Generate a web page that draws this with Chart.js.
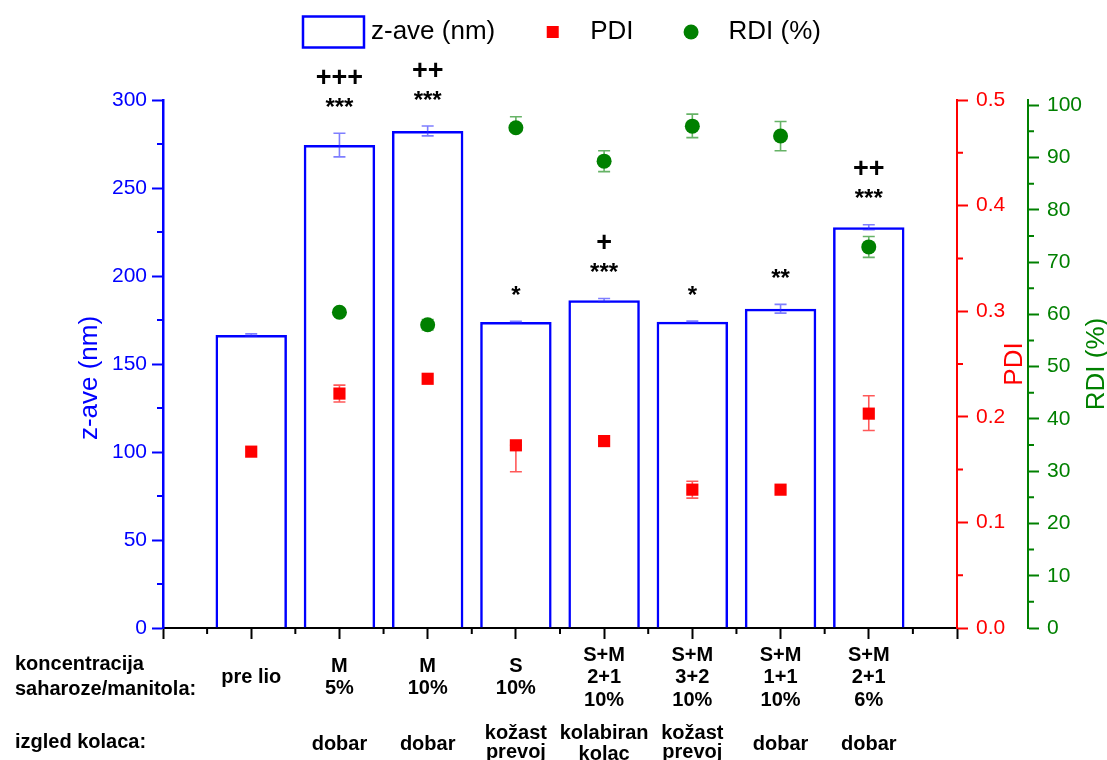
<!DOCTYPE html>
<html>
<head>
<meta charset="utf-8">
<script src="https://cdn.jsdelivr.net/npm/chart.js@4.4.1/dist/chart.umd.min.js"></script>
<style>
html,body{margin:0;padding:0;background:#ffffff;}
#wrap{width:1107px;height:760px;position:relative;}
</style>
</head>
<body>
<div id="wrap"><canvas id="c" width="1107" height="760"></canvas></div>
<script>
// ---------- DATA ----------
const categories = [['pre lio'], ['M','5%'], ['M','10%'], ['S','10%'], ['S+M','2+1','10%'], ['S+M','3+2','10%'], ['S+M','1+1','10%'], ['S+M','2+1','6%']];
const cakeLook = [[], ['dobar'], ['dobar'], ['kožast','prevoj'], ['kolabiran','kolac'], ['kožast','prevoj'], ['dobar'], ['dobar']];
const rowHeaders = [['koncentracija','saharoze/manitola:'], ['izgled kolaca:']];

const zAve        = [166.5, 274.4, 282.4, 173.9, 186.2, 174.0, 181.4, 227.7];
const zAveErr     = [0.6, 6.7, 2.8, 0.4, 1.0, 0.4, 2.5, 1.4];

const pdi         = [0.167, 0.222, 0.236, 0.173, 0.177, 0.131, 0.131, 0.203];
const pdiErrPlus  = [0, 0.008, 0, 0, 0, 0.008, 0, 0.017];
const pdiErrMinus = [0, 0.008, 0, 0.025, 0, 0.008, 0, 0.016];

const rdi         = [null, 60.4, 58.0, 95.7, 89.3, 96.0, 94.1, 72.9];
const rdiErrPlus  = [0, 0.6, 1.0, 2.1, 2.0, 2.3, 2.8, 2.0];
const rdiErrMinus = [0, 0.6, 1.0, 0.4, 2.0, 2.2, 2.8, 2.0];

const sigStars = ['', '***', '***', '*', '***', '*', '**', '***'];
const sigPlus  = ['', '+++', '++', '', '+', '', '', '++'];

const seriesLabels = ['z-ave (nm)', 'PDI', 'RDI (%)'];
const axisTitles = {y: 'z-ave (nm)', y1: 'PDI', y2: 'RDI (%)'};

// ---------- STYLE ----------
const FONT = "'Liberation Sans', Arial, sans-serif";
const BLUE = '#0000FF', RED = '#FF0000', GREEN = '#008000', BLACK = '#000000';
const CAT_FONT = 20, CAT_LH = 22.5;

function centeredText(ctx, text, x, cy) {
  const m = ctx.measureText(text);
  const a = m.actualBoundingBoxAscent, d = m.actualBoundingBoxDescent;
  ctx.textBaseline = 'alphabetic';
  ctx.fillText(text, x, cy + (a - d) / 2);
}

function drawErr(ctx, xs, ys, xv, v, up, down, color, cap, lw) {
  if (v === null || v === undefined) return;
  if (!up && !down) return;
  const px = xs.getPixelForValue(xv);
  const yt = ys.getPixelForValue(v + up), yb = ys.getPixelForValue(v - down);
  ctx.save();
  ctx.strokeStyle = color; ctx.lineWidth = lw;
  ctx.beginPath();
  ctx.moveTo(px, yt); ctx.lineTo(px, yb);
  ctx.moveTo(px - cap / 2, yt); ctx.lineTo(px + cap / 2, yt);
  ctx.moveTo(px - cap / 2, yb); ctx.lineTo(px + cap / 2, yb);
  ctx.stroke();
  ctx.restore();
}

const errorBars = {
  id: 'errorBars',
  beforeDatasetDraw(chart, args) {
    const {ctx, scales} = chart;
    if (args.index === 1) {
      pdi.forEach((v, i) => drawErr(ctx, scales.x, scales.y1, i, v, pdiErrPlus[i], pdiErrMinus[i], 'rgba(255,0,0,0.65)', 12, 1.6));
    } else if (args.index === 2) {
      rdi.forEach((v, i) => drawErr(ctx, scales.x, scales.y2, i, v, rdiErrPlus[i], rdiErrMinus[i], 'rgba(0,128,0,0.6)', 12, 1.6));
    }
  },
  afterDatasetDraw(chart, args) {
    const {ctx, scales} = chart;
    if (args.index === 0) {
      zAve.forEach((v, i) => drawErr(ctx, scales.x, scales.y, i, v, zAveErr[i], zAveErr[i], 'rgba(40,40,255,0.6)', 12, 1.6));
    }
  }
};

function minorTicks(ctx, scale, step, len, color, width, dir) {
  ctx.save();
  ctx.strokeStyle = color; ctx.lineWidth = width;
  ctx.beginPath();
  for (let k = 0; ; k++) {
    const v = scale.min + step * (k + 0.5);
    if (v > scale.max + 1e-9) break;
    const p = scale.getPixelForValue(v);
    if (dir === 'down') { ctx.moveTo(p, scale.top); ctx.lineTo(p, scale.top + len); }
    else if (dir === 'left') { ctx.moveTo(scale.right, p); ctx.lineTo(scale.right - len, p); }
    else { ctx.moveTo(scale.left, p); ctx.lineTo(scale.left + len, p); }
  }
  ctx.stroke();
  ctx.restore();
}

const decorations = {
  id: 'decorations',
  afterDraw(chart) {
    const {ctx, scales, chartArea} = chart;
    const xs = scales.x, ys = scales.y, y1 = scales.y1, y2 = scales.y2;

    // minor ticks
    minorTicks(ctx, xs, 1, 6, BLACK, 2, 'down');
    minorTicks(ctx, ys, 50, 6, BLUE, 2, 'left');
    minorTicks(ctx, y1, 0.1, 6, RED, 2, 'right');
    minorTicks(ctx, y2, 10, 6, GREEN, 2, 'right');

    // axis titles (rotated, reading bottom-to-top)
    ctx.save();
    ctx.font = '26px ' + FONT;
    ctx.textAlign = 'center';
    const midY = (chartArea.top + chartArea.bottom) / 2;
    const titles = [
      [axisTitles.y, chartArea.left - 73, midY + 14, BLUE],
      [axisTitles.y1, y1.right - 13, midY, RED],
      [axisTitles.y2, y2.right - 10, midY, GREEN]
    ];
    titles.forEach(([t, x, y, c]) => {
      ctx.save();
      ctx.translate(x, y);
      ctx.rotate(-Math.PI / 2);
      ctx.fillStyle = c;
      ctx.textBaseline = 'middle';
      ctx.fillText(t, 0, 0);
      ctx.restore();
    });
    ctx.restore();

    // row headers & cake appearance row
    ctx.save();
    ctx.fillStyle = BLACK;
    ctx.font = 'bold ' + CAT_FONT + 'px ' + FONT;
    const row1C = xs.top + 48, row2C = xs.top + 114;
    ctx.textAlign = 'left';
    rowHeaders[0].forEach((t, k) => centeredText(ctx, t, 15, row1C + (k - (rowHeaders[0].length - 1) / 2) * CAT_LH));
    rowHeaders[1].forEach((t, k) => centeredText(ctx, t, 15, row2C + (k - (rowHeaders[1].length - 1) / 2) * CAT_LH));
    ctx.textAlign = 'center';
    cakeLook.forEach((lines, i) => {
      const px = xs.getPixelForValue(i);
      lines.forEach((t, k) => centeredText(ctx, t, px, row2C + (k - (lines.length - 1) / 2) * 21));
    });
    ctx.restore();

    // significance marks
    ctx.save();
    ctx.fillStyle = BLACK;
    ctx.textAlign = 'center';
    zAve.forEach((v, i) => {
      const px = xs.getPixelForValue(i);
      const top = ys.getPixelForValue(v + zAveErr[i]);
      if (sigStars[i]) { ctx.font = 'bold 24px ' + FONT; centeredText(ctx, sigStars[i], px, top - 31); }
      if (sigPlus[i]) { ctx.font = 'bold 27px ' + FONT; centeredText(ctx, sigPlus[i], px, top - 57); }
    });
    ctx.restore();

    // legend
    ctx.save();
    ctx.font = '26px ' + FONT;
    const boxW = 61, gap = 7, spacing = 27;
    const widths = seriesLabels.map(t => boxW + gap + ctx.measureText(t).width);
    const total = widths.reduce((a, b) => a + b, 0) + spacing * (widths.length - 1);
    let lx = (chartArea.left + chartArea.right) / 2 + 2 - total / 2;
    const ly = chartArea.top - 68;
    seriesLabels.forEach((t, k) => {
      const cx = lx + boxW / 2;
      if (k === 0) {
        ctx.strokeStyle = BLUE; ctx.lineWidth = 2.5;
        ctx.strokeRect(lx, ly - 15.5, boxW, 31);
      } else if (k === 1) {
        ctx.fillStyle = RED; ctx.fillRect(cx - 6, ly - 6, 12, 12);
      } else {
        ctx.fillStyle = GREEN; ctx.beginPath(); ctx.arc(cx, ly, 7.5, 0, Math.PI * 2); ctx.fill();
      }
      ctx.fillStyle = BLACK;
      ctx.textAlign = 'left';
      ctx.textBaseline = 'middle';
      ctx.fillText(t, lx + boxW + gap, ly);
      lx += widths[k] + spacing;
    });
    ctx.restore();
  }
};

new Chart(document.getElementById('c'), {
  type: 'bar',
  data: {
    datasets: [
      {
        type: 'bar', label: seriesLabels[0],
        data: zAve.map((v, i) => ({x: i, y: v})),
        yAxisID: 'y', xAxisID: 'x',
        backgroundColor: 'rgba(255,255,255,0)', borderColor: BLUE, borderWidth: 2.5,
        barPercentage: 0.81, categoryPercentage: 1, order: 3
      },
      {
        type: 'line', label: seriesLabels[1],
        data: pdi.map((v, i) => ({x: i, y: v})),
        yAxisID: 'y1', xAxisID: 'x', showLine: false,
        pointStyle: 'rect', pointRadius: 8.6, pointBorderWidth: 0,
        backgroundColor: RED, borderColor: RED, order: 2
      },
      {
        type: 'line', label: seriesLabels[2],
        data: rdi.map((v, i) => ({x: i, y: v})),
        yAxisID: 'y2', xAxisID: 'x', showLine: false,
        pointStyle: 'circle', pointRadius: 7.5, pointBorderWidth: 0,
        backgroundColor: GREEN, borderColor: GREEN, order: 1
      }
    ]
  },
  options: {
    responsive: false, animation: false, devicePixelRatio: 1,
    layout: {padding: {top: 100, left: 0, right: 0, bottom: 0}},
    plugins: {legend: {display: false}, tooltip: {enabled: false}},
    scales: {
      x: {
        type: 'linear', position: 'bottom', min: -1, max: 8, offset: false,
        grid: {drawOnChartArea: false, drawTicks: true, tickLength: 11, color: BLACK, tickColor: BLACK, tickWidth: 2, offset: false},
        border: {display: true, color: BLACK, width: 2},
        ticks: {
          stepSize: 1, autoSkip: false, maxRotation: 0, minRotation: 0, crossAlign: 'center', padding: 16,
          color: BLACK, font: {family: FONT, size: CAT_FONT, weight: 'bold', lineHeight: CAT_LH / CAT_FONT},
          callback: (v) => (Number.isInteger(v) && v >= 0 && v < categories.length) ? categories[v] : ''
        },
        afterFit: (s) => { s.height = 132; }
      },
      y: {
        position: 'left', min: 0, max: 300,
        grid: {drawOnChartArea: false, tickLength: 11, color: BLUE, tickColor: BLUE, tickWidth: 2},
        border: {display: true, color: BLUE, width: 2.5},
        ticks: {stepSize: 50, color: BLUE, padding: 5, font: {family: FONT, size: 21}},
        title: {display: false, text: axisTitles.y},
        afterFit: (s) => { s.width = 163; }
      },
      y1: {
        position: 'right', weight: 1, min: 0, max: 0.5,
        grid: {drawOnChartArea: false, tickLength: 11, color: RED, tickColor: RED, tickWidth: 2},
        border: {display: true, color: RED, width: 2},
        ticks: {stepSize: 0.1, color: RED, padding: 8, font: {family: FONT, size: 21}, callback: (v) => Number(v).toFixed(1)},
        title: {display: false, text: axisTitles.y1},
        afterFit: (s) => { s.width = 71; }
      },
      y2: {
        position: 'right', weight: 2, min: 0, max: 101,
        grid: {drawOnChartArea: false, tickLength: 11, color: GREEN, tickColor: GREEN, tickWidth: 2},
        border: {display: true, color: GREEN, width: 2},
        ticks: {stepSize: 10, includeBounds: false, color: GREEN, padding: 8, font: {family: FONT, size: 21}},
        title: {display: false, text: axisTitles.y2},
        afterFit: (s) => { s.width = 79; }
      }
    }
  },
  plugins: [errorBars, decorations]
});
</script>
</body>
</html>
